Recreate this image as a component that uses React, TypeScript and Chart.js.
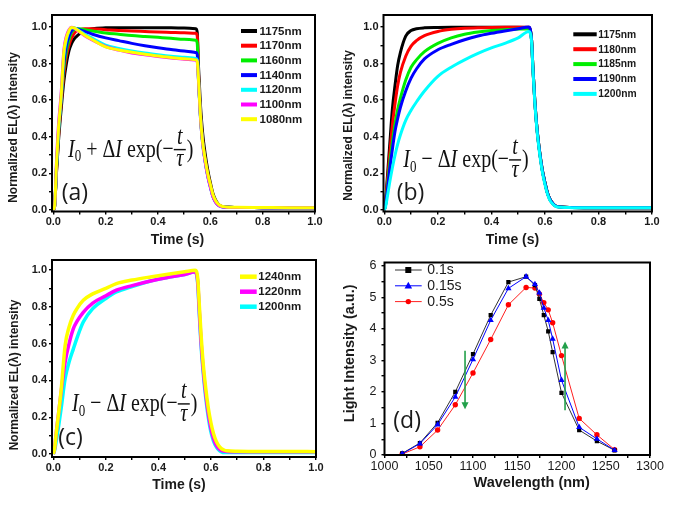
import { useEffect, useRef } from "react"
import { Chart, registerables } from "chart.js"

Chart.register(...registerables)

const SANS = "'Liberation Sans', Arial, Helvetica, sans-serif"
const SERIF = "'Liberation Serif', 'Times New Roman', serif"
const LETTER = "'Open Sans', 'Liberation Sans', sans-serif"

// ---------- panel (a): normalized EL transients, decaying overshoot ----------
const timeA = [0, 0.005, 0.012, 0.02, 0.03, 0.04, 0.05, 0.06, 0.07, 0.08, 0.09, 0.1, 0.12, 0.15, 0.2, 0.25, 0.3, 0.35, 0.4, 0.45, 0.5, 0.545, 0.55, 0.555, 0.562, 0.57, 0.58, 0.59, 0.6, 0.61, 0.62, 0.63, 0.64, 0.66, 0.7, 0.8, 0.9, 1.0]
const a1175 = [0, 0.02, 0.2, 0.38, 0.55, 0.7, 0.8, 0.87, 0.91, 0.935, 0.95, 0.962, 0.978, 0.99, 0.995, 0.996, 0.996, 0.996, 0.995, 0.995, 0.994, 0.99, 0.97, 0.78, 0.58, 0.43, 0.31, 0.22, 0.15, 0.09, 0.055, 0.033, 0.022, 0.016, 0.014, 0.013, 0.012, 0.012]
const a1170 = [0, 0.02, 0.21, 0.4, 0.58, 0.74, 0.84, 0.9, 0.94, 0.965, 0.98, 0.985, 0.99, 0.99, 0.985, 0.98, 0.978, 0.975, 0.972, 0.97, 0.968, 0.965, 0.95, 0.74, 0.53, 0.39, 0.28, 0.2, 0.135, 0.08, 0.048, 0.03, 0.021, 0.016, 0.014, 0.013, 0.012, 0.012]
const a1160 = [0, 0.02, 0.22, 0.42, 0.6, 0.77, 0.87, 0.93, 0.97, 0.985, 0.99, 0.99, 0.985, 0.978, 0.967, 0.96, 0.953, 0.948, 0.943, 0.938, 0.932, 0.927, 0.91, 0.72, 0.52, 0.38, 0.27, 0.19, 0.13, 0.075, 0.045, 0.028, 0.02, 0.016, 0.014, 0.013, 0.012, 0.012]
const a1140 = [0, 0.02, 0.23, 0.43, 0.6, 0.8, 0.9, 0.95, 0.98, 0.99, 0.99, 0.985, 0.975, 0.96, 0.94, 0.925, 0.91, 0.897, 0.886, 0.877, 0.868, 0.86, 0.85, 0.71, 0.52, 0.38, 0.27, 0.19, 0.13, 0.075, 0.045, 0.028, 0.02, 0.016, 0.014, 0.013, 0.012, 0.012]
const a1120 = [0, 0.02, 0.24, 0.44, 0.62, 0.84, 0.93, 0.975, 0.995, 0.995, 0.987, 0.978, 0.96, 0.937, 0.9, 0.882, 0.868, 0.857, 0.848, 0.84, 0.834, 0.828, 0.82, 0.7, 0.51, 0.37, 0.265, 0.185, 0.125, 0.072, 0.043, 0.027, 0.019, 0.015, 0.014, 0.013, 0.012, 0.012]
const a1100 = [0, 0.02, 0.26, 0.47, 0.64, 0.87, 0.95, 0.985, 0.998, 0.993, 0.983, 0.972, 0.952, 0.927, 0.893, 0.873, 0.858, 0.848, 0.838, 0.83, 0.824, 0.818, 0.81, 0.7, 0.51, 0.37, 0.265, 0.185, 0.125, 0.072, 0.043, 0.027, 0.019, 0.015, 0.014, 0.013, 0.012, 0.012]
const a1080 = [0, 0.02, 0.25, 0.45, 0.62, 0.86, 0.94, 0.98, 0.997, 0.995, 0.985, 0.975, 0.955, 0.93, 0.891, 0.874, 0.862, 0.851, 0.841, 0.833, 0.826, 0.82, 0.81, 0.71, 0.52, 0.38, 0.28, 0.2, 0.14, 0.085, 0.052, 0.033, 0.023, 0.017, 0.015, 0.014, 0.013, 0.013]
const labelsA = ["1175nm", "1170nm", "1160nm", "1140nm", "1120nm", "1100nm", "1080nm"]
const colorsA = ["#000000", "#ff0000", "#00ee00", "#0000ff", "#00ffff", "#ff00ff", "#ffff00"]

// ---------- panel (b): rising transients ----------
const timeB = [0, 0.005, 0.01, 0.02, 0.03, 0.04, 0.05, 0.06, 0.08, 0.1, 0.12, 0.15, 0.2, 0.25, 0.3, 0.35, 0.4, 0.45, 0.5, 0.54, 0.55, 0.555, 0.562, 0.57, 0.58, 0.59, 0.6, 0.61, 0.62, 0.63, 0.64, 0.66, 0.7, 0.8, 0.9, 1.0]
const b1175 = [0, 0.05, 0.15, 0.35, 0.55, 0.68, 0.79, 0.86, 0.95, 0.98, 0.99, 0.995, 0.997, 0.998, 0.998, 0.998, 0.998, 0.998, 0.998, 0.997, 0.93, 0.78, 0.6, 0.45, 0.32, 0.22, 0.15, 0.09, 0.055, 0.035, 0.022, 0.016, 0.014, 0.013, 0.013, 0.012]
const b1180 = [0, 0.04, 0.13, 0.3, 0.46, 0.58, 0.68, 0.75, 0.84, 0.895, 0.925, 0.952, 0.975, 0.987, 0.993, 0.995, 0.997, 0.998, 0.998, 0.998, 0.93, 0.78, 0.6, 0.45, 0.32, 0.22, 0.15, 0.09, 0.055, 0.035, 0.022, 0.016, 0.014, 0.013, 0.013, 0.012]
const b1185 = [0, 0.03, 0.1, 0.25, 0.37, 0.47, 0.55, 0.61, 0.71, 0.78, 0.82, 0.865, 0.91, 0.94, 0.96, 0.972, 0.98, 0.985, 0.988, 0.99, 0.93, 0.78, 0.6, 0.45, 0.32, 0.22, 0.15, 0.09, 0.055, 0.035, 0.022, 0.016, 0.014, 0.013, 0.013, 0.012]
const b1190 = [0, 0.03, 0.09, 0.22, 0.33, 0.43, 0.5, 0.56, 0.65, 0.72, 0.77, 0.825, 0.875, 0.905, 0.93, 0.95, 0.965, 0.978, 0.99, 1.0, 0.93, 0.78, 0.6, 0.45, 0.32, 0.22, 0.15, 0.09, 0.055, 0.035, 0.022, 0.016, 0.014, 0.013, 0.013, 0.012]
const b1200 = [0, 0.02, 0.06, 0.15, 0.23, 0.3, 0.36, 0.41, 0.49, 0.545, 0.59, 0.65, 0.73, 0.78, 0.82, 0.855, 0.885, 0.91, 0.94, 0.975, 0.92, 0.77, 0.59, 0.44, 0.31, 0.21, 0.14, 0.085, 0.05, 0.032, 0.02, 0.015, 0.013, 0.012, 0.012, 0.012]
const labelsB = ["1175nm", "1180nm", "1185nm", "1190nm", "1200nm"]
const colorsB = ["#000000", "#ff0000", "#00ee00", "#0000ff", "#00ffff"]

// ---------- panel (c): long wavelengths ----------
const timeC = [0, 0.005, 0.01, 0.02, 0.03, 0.045, 0.06, 0.076, 0.09, 0.114, 0.15, 0.2, 0.24, 0.3, 0.37, 0.43, 0.5, 0.54, 0.55, 0.555, 0.562, 0.57, 0.58, 0.59, 0.6, 0.61, 0.62, 0.63, 0.64, 0.65, 0.66, 0.7, 0.8, 0.9, 1.0]
const c1240 = [0, 0.03, 0.1, 0.22, 0.35, 0.59, 0.69, 0.754, 0.79, 0.835, 0.87, 0.9, 0.926, 0.945, 0.962, 0.975, 0.99, 0.998, 0.95, 0.83, 0.66, 0.5, 0.36, 0.25, 0.17, 0.11, 0.07, 0.045, 0.03, 0.022, 0.018, 0.015, 0.014, 0.014, 0.013]
const c1220 = [0, 0.03, 0.1, 0.22, 0.34, 0.5, 0.6, 0.68, 0.72, 0.77, 0.82, 0.86, 0.89, 0.915, 0.94, 0.958, 0.975, 0.99, 0.93, 0.8, 0.62, 0.47, 0.33, 0.22, 0.14, 0.085, 0.05, 0.03, 0.02, 0.016, 0.014, 0.013, 0.013, 0.012, 0.012]
const c1200 = [0, 0.02, 0.06, 0.15, 0.25, 0.41, 0.5, 0.57, 0.63, 0.717, 0.79, 0.845, 0.88, 0.91, 0.94, 0.958, 0.975, 0.99, 0.92, 0.78, 0.6, 0.45, 0.31, 0.2, 0.12, 0.07, 0.04, 0.022, 0.012, 0.008, 0.008, 0.008, 0.008, 0.008, 0.008]
const labelsC = ["1240nm", "1220nm", "1200nm"]
const colorsC = ["#ffff00", "#ff00ff", "#00ffff"]

// ---------- panel (d): spectra at three delays ----------
const wavelengths = [1020, 1040, 1060, 1080, 1100, 1120, 1140, 1160, 1170, 1175, 1180, 1185, 1190, 1200, 1220, 1240, 1260]
const spec01 = [0.05, 0.38, 1.02, 2.0, 3.2, 4.43, 5.48, 5.65, 5.38, 4.95, 4.43, 3.92, 3.26, 1.97, 0.79, 0.44, 0.15]
const spec015 = [0.04, 0.36, 0.96, 1.84, 3.03, 4.27, 5.28, 5.65, 5.41, 5.14, 4.66, 4.27, 3.68, 2.37, 0.88, 0.51, 0.15]
const spec05 = [0.03, 0.26, 0.79, 1.59, 2.6, 3.66, 4.76, 5.31, 5.29, 5.1, 4.83, 4.6, 4.19, 3.15, 1.16, 0.64, 0.17]
const labelsD = ["0.1s", "0.15s", "0.5s"]
const colorsD = ["#000000", "#0000ff", "#ff0000"]
const lineColorsD = ["#333333", "#0000ff", "#ff2020"]
// green arrows: x position, start value, end value
const arrowX = [1091, 1204]
const arrowFrom = [3.3, 1.42]
const arrowTo = [1.45, 3.6]

type Ctx = CanvasRenderingContext2D

function drawFrame(ctx: Ctx, a: { left: number; right: number; top: number; bottom: number }) {
  ctx.save()
  ctx.strokeStyle = "#000"
  ctx.lineWidth = 2
  ctx.strokeRect(a.left, a.top, a.right - a.left, a.bottom - a.top)
  ctx.restore()
}

function legendLines(ctx: Ctx, labels: string[], colors: string[], x0: number, x1: number, tx: number, y0: number, dy: number, font: string, lw: number) {
  ctx.save()
  ctx.font = font
  ctx.textBaseline = "middle"
  ctx.textAlign = "left"
  labels.forEach((lab, i) => {
    const y = y0 + i * dy
    ctx.strokeStyle = colors[i]
    ctx.lineWidth = lw
    ctx.beginPath()
    ctx.moveTo(x0, y)
    ctx.lineTo(x1, y)
    ctx.stroke()
    ctx.fillStyle = "#1a1a1a"
    ctx.fillText(lab, tx, y + 0.5)
  })
  ctx.restore()
}

function drawFormula(ctx: Ctx, x: number, y: number, sign: string) {
  ctx.save()
  ctx.translate(x, y)
  ctx.scale(1, 1.3)
  ctx.fillStyle = "#111"
  ctx.textBaseline = "alphabetic"
  ctx.textAlign = "left"
  const roman = `20px ${SERIF}`
  const italic = `italic 20px ${SERIF}`
  let cx = 0
  const put = (s: string, font: string, dy = 0) => {
    ctx.font = font
    ctx.fillText(s, cx, dy)
    cx += ctx.measureText(s).width
  }
  put("I", italic)
  put("0", `13px ${SERIF}`, 3.5)
  put(` ${sign} `, roman)
  put("Δ", roman)
  put("I", italic)
  put(" exp(−", roman)
  const w = 12
  ctx.fillRect(cx, -6, w, 1.1)
  ctx.font = italic
  ctx.textAlign = "center"
  ctx.fillText("t", cx + w / 2, -10)
  ctx.fillText("τ", cx + w / 2, 7.5)
  ctx.textAlign = "left"
  cx += w + 1
  put(")", roman)
  ctx.restore()
}

function text(ctx: Ctx, s: string, x: number, y: number, font: string, align: CanvasTextAlign = "center") {
  ctx.save()
  ctx.font = font
  ctx.fillStyle = "#1a1a1a"
  ctx.textAlign = align
  ctx.textBaseline = "middle"
  ctx.fillText(s, x, y)
  ctx.restore()
}

function vText(ctx: Ctx, s: string, x: number, y: number, font: string) {
  ctx.save()
  ctx.translate(x, y)
  ctx.rotate(-Math.PI / 2)
  text(ctx, s, 0, 0, font)
  ctx.restore()
}

function axes(o: {
  xMin: number; xMax: number; xStep: number; xLabel: (v: number) => string
  yMin: number; yMax: number; yStep: number; yLabel: (v: number) => string
  yWidth: number; xHeight: number; font: any; xPad: number; yPad: number
}) {
  const grid = { drawOnChartArea: false, drawTicks: true, tickLength: 3, color: "#000", lineWidth: 1.4 }
  return {
    x: {
      type: "linear",
      min: o.xMin,
      max: o.xMax,
      afterFit: (s: any) => { s.height = o.xHeight },
      grid,
      border: { display: false },
      ticks: { stepSize: o.xStep, includeBounds: false, autoSkip: false, maxRotation: 0, padding: o.xPad, color: "#1a1a1a", font: o.font, callback: (v: any) => o.xLabel(Number(v)) },
    },
    y: {
      type: "linear",
      min: o.yMin,
      max: o.yMax,
      afterFit: (s: any) => { s.width = o.yWidth },
      grid,
      border: { display: false },
      ticks: { stepSize: o.yStep, includeBounds: false, autoSkip: false, padding: o.yPad, color: "#1a1a1a", font: o.font, callback: (v: any) => o.yLabel(Number(v)) },
    },
  }
}

const tenths = (v: number) => (Math.round(v * 10) % 2 === 0 ? (Math.abs(v) < 1e-9 ? 0 : v).toFixed(1) : "")
const boldTick = { family: SANS, size: 11, weight: "bold" }

function timeConfig(p: {
  time: number[]; series: number[][]; labels: string[]; colors: string[]; topFirst: boolean
  xMin: number; yMin: number; yMax: number; yWidth: number; xHeight: number; padTop: number; padRight: number
  lineWidth: number; overlay: (ctx: Ctx) => void
}): any {
  return {
    type: "line",
    data: {
      datasets: p.series.map((vals, i) => ({
        label: p.labels[i],
        data: p.time.map((t, j) => ({ x: t, y: vals[j] })),
        borderColor: p.colors[i],
        backgroundColor: p.colors[i],
        borderWidth: p.lineWidth,
        pointRadius: 0,
        cubicInterpolationMode: "monotone",
        order: p.topFirst ? i : -i,
      })),
    },
    options: {
      animation: false,
      responsive: false,
      maintainAspectRatio: false,
      layout: { padding: { top: p.padTop, right: p.padRight, left: 0, bottom: 0 } },
      plugins: { legend: { display: false }, tooltip: { enabled: false } },
      scales: axes({
        xMin: p.xMin, xMax: 1.0, xStep: 0.1, xLabel: tenths,
        yMin: p.yMin, yMax: p.yMax, yStep: 0.1, yLabel: tenths,
        yWidth: p.yWidth, xHeight: p.xHeight, font: boldTick, xPad: 1, yPad: 2,
      }),
    },
    plugins: [{
      id: "overlay",
      afterDraw: (chart: Chart) => {
        drawFrame(chart.ctx, chart.chartArea)
        p.overlay(chart.ctx)
      },
    }],
  }
}

const buildA = () => timeConfig({
  time: timeA, series: [a1175, a1170, a1160, a1140, a1120, a1100, a1080], labels: labelsA, colors: colorsA, topFirst: false,
  xMin: -0.005, yMin: -0.008, yMax: 1.065, yWidth: 52, xHeight: 38.5, padTop: 15, padRight: 25, lineWidth: 3,
  overlay: (ctx) => {
    legendLines(ctx, labelsA, colorsA, 241, 257, 259.5, 31, 14.7, `bold 11.5px ${SANS}`, 4)
    drawFormula(ctx, 68, 156.7, "+")
    text(ctx, "(a)", 61.7, 193.3, `23px ${LETTER}`, "left")
    text(ctx, "Time (s)", 177.5, 240, `bold 14px ${SANS}`)
    vText(ctx, "Normalized EL(λ) intensity", 14, 127.5, `bold 12px ${SANS}`)
  },
})

const buildB = () => timeConfig({
  time: timeB, series: [b1175, b1180, b1185, b1190, b1200], labels: labelsB, colors: colorsB, topFirst: false,
  xMin: -0.003, yMin: -0.008, yMax: 1.065, yWidth: 43.5, xHeight: 38.5, padTop: 15, padRight: 29, lineWidth: 3,
  overlay: (ctx) => {
    legendLines(ctx, labelsB, colorsB, 233.3, 256.7, 258.3, 34.3, 14.9, `bold 10.3px ${SANS}`, 4)
    drawFormula(ctx, 63.3, 167, "−")
    text(ctx, "(b)", 56.7, 193.3, `23px ${LETTER}`, "left")
    text(ctx, "Time (s)", 172.5, 240, `bold 14px ${SANS}`)
    vText(ctx, "Normalized EL(λ) intensity", 8.5, 125.5, `bold 12px ${SANS}`)
  },
})

const buildC = () => timeConfig({
  time: timeC, series: [c1240, c1220, c1200], labels: labelsC, colors: colorsC, topFirst: true,
  xMin: -0.005, yMin: -0.016, yMax: 1.054, yWidth: 52, xHeight: 48, padTop: 10, padRight: 24, lineWidth: 3.5,
  overlay: (ctx) => {
    legendLines(ctx, labelsC, colorsC, 240, 256.7, 258.3, 26.7, 15, `bold 11.5px ${SANS}`, 4.5)
    drawFormula(ctx, 72, 161, "−")
    text(ctx, "(c)", 58.3, 188.3, `23px ${LETTER}`, "left")
    text(ctx, "Time (s)", 179, 235, `bold 14px ${SANS}`)
    vText(ctx, "Normalized EL(λ) intensity", 15, 125, `bold 12px ${SANS}`)
  },
})

function marker(ctx: Ctx, style: string, x: number, y: number, color: string) {
  ctx.fillStyle = color
  ctx.beginPath()
  if (style === "rect") ctx.rect(x - 3, y - 3, 6, 6)
  else if (style === "triangle") { ctx.moveTo(x, y - 4); ctx.lineTo(x + 3.8, y + 2.8); ctx.lineTo(x - 3.8, y + 2.8); ctx.closePath() }
  else ctx.arc(x, y, 2.7, 0, Math.PI * 2)
  ctx.fill()
}

const stylesD = ["rect", "triangle", "circle"]
const radiusD = [3, 3.6, 2.7]

const buildD = (): any => ({
  type: "line",
  data: {
    datasets: [spec01, spec015, spec05].map((vals, i) => ({
      label: labelsD[i],
      data: wavelengths.map((w, j) => ({ x: w, y: vals[j] })),
      borderColor: lineColorsD[i],
      backgroundColor: colorsD[i],
      pointBackgroundColor: colorsD[i],
      pointBorderColor: colorsD[i],
      pointBorderWidth: 0,
      pointStyle: stylesD[i],
      pointRadius: radiusD[i],
      borderWidth: 1,
      tension: 0,
      order: [1, 0, 2][i],
    })),
  },
  options: {
    animation: false,
    responsive: false,
    maintainAspectRatio: false,
    layout: { padding: { top: 5, right: 31, left: 0, bottom: 0 } },
    plugins: { legend: { display: false }, tooltip: { enabled: false } },
    scales: axes({
      xMin: 1000, xMax: 1300, xStep: 25, xLabel: (v) => (v % 50 === 0 ? String(v) : ""),
      yMin: 0, yMax: 6.1, yStep: 0.5, yLabel: (v) => (Number.isInteger(v) ? String(v) : ""),
      yWidth: 44.5, xHeight: 50, font: { family: SANS, size: 12.5 }, xPad: 1.5, yPad: 5,
    }),
  },
  plugins: [{
    id: "overlay",
    afterDraw: (chart: Chart) => {
      const ctx = chart.ctx
      const xs = chart.scales.x
      const ys = chart.scales.y
      drawFrame(ctx, chart.chartArea)
      // arrows
      ctx.save()
      ctx.strokeStyle = "#22a04a"
      ctx.fillStyle = "#22a04a"
      ctx.lineWidth = 1.6
      arrowX.forEach((w, i) => {
        const x = xs.getPixelForValue(w)
        const y1 = ys.getPixelForValue(arrowFrom[i])
        const y2 = ys.getPixelForValue(arrowTo[i])
        const dir = y2 > y1 ? 1 : -1
        ctx.beginPath()
        ctx.moveTo(x, y1)
        ctx.lineTo(x, y2 - dir * 6)
        ctx.stroke()
        ctx.beginPath()
        ctx.moveTo(x, y2)
        ctx.lineTo(x - 3.5, y2 - dir * 7)
        ctx.lineTo(x + 3.5, y2 - dir * 7)
        ctx.closePath()
        ctx.fill()
      })
      ctx.restore()
      // legend
      ctx.save()
      labelsD.forEach((lab, i) => {
        const y = 20 + i * 15.8
        ctx.strokeStyle = lineColorsD[i]
        ctx.lineWidth = 1
        ctx.beginPath()
        ctx.moveTo(55, y)
        ctx.lineTo(81.7, y)
        ctx.stroke()
        marker(ctx, stylesD[i], 68.3, y, colorsD[i])
      })
      ctx.restore()
      labelsD.forEach((lab, i) => text(ctx, lab, 87.3, 20.5 + i * 15.8, `14px ${SANS}`, "left"))
      text(ctx, "(d)", 53.3, 171.7, `23px ${LETTER}`, "left")
      text(ctx, "Wavelength (nm)", 191.7, 233.3, `bold 14.5px ${SANS}`)
      vText(ctx, "Light Intensity (a.u.)", 9.5, 103.3, `bold 14.5px ${SANS}`)
    },
  }],
})

function ChartPanel({ left, top, width, height, build }: { left: number; top: number; width: number; height: number; build: () => any }) {
  const ref = useRef<HTMLCanvasElement>(null)

  useEffect(() => {
    if (!ref.current) return
    const chart = new Chart(ref.current, build())
    return () => chart.destroy()
  }, [build])

  return <canvas ref={ref} width={width} height={height} style={{ position: "absolute", left, top, width, height }} />
}

export default function App() {
  return (
    <div style={{ position: "fixed", left: 0, top: 0, width: 681, height: 505, background: "#fff", overflow: "hidden" }}>
      <ChartPanel left={0} top={0} width={340} height={250} build={buildA} />
      <ChartPanel left={340} top={0} width={341} height={250} build={buildB} />
      <ChartPanel left={0} top={250} width={340} height={255} build={buildC} />
      <ChartPanel left={340} top={250} width={341} height={255} build={buildD} />
    </div>
  )
}
